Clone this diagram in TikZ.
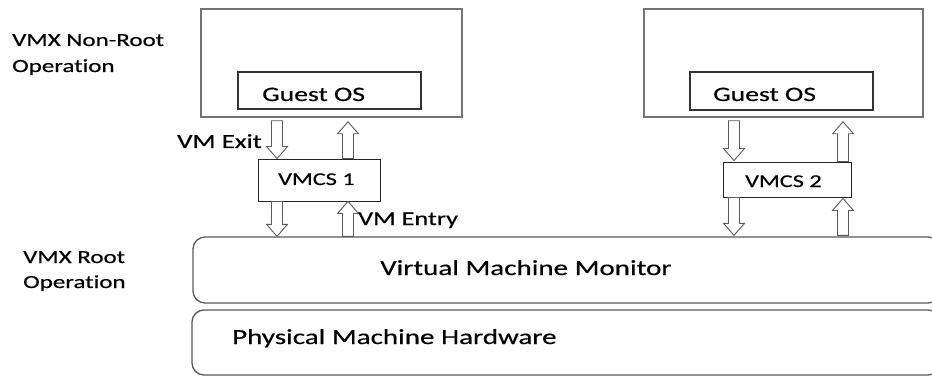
\documentclass[tikz,border=0pt]{standalone}
\usepackage{fontspec}
\usepackage{graphicx}
\setmainfont{Carlito}[Ligatures=NoCommon, BoldFont=Carlito, BoldFeatures={FakeBold=0.35}]
\usetikzlibrary{calc}
\newcommand{\tx}[2]{\scalebox{1.35}[1]{\fontsize{#1}{#1}\selectfont\bfseries #2}}
\newcommand{\blkdown}[2]{\draw[blk] ($(#1)+(-5.5,0)$) -- ($(#2)+(-5.5,-12)$) -- ($(#2)+(-10.5,-12)$) -- (#2) -- ($(#2)+(10.5,-12)$) -- ($(#2)+(5.5,-12)$) -- ($(#1)+(5.5,0)$) -- cycle;}
\newcommand{\blkup}[2]{\draw[blk] ($(#1)+(-5.5,0)$) -- ($(#2)+(-5.5,12)$) -- ($(#2)+(-10.5,12)$) -- (#2) -- ($(#2)+(10.5,12)$) -- ($(#2)+(5.5,12)$) -- ($(#1)+(5.5,0)$) -- cycle;}
\tikzset{
  outerbox/.style={draw=black!55, line width=1.6pt, rectangle, inner sep=0pt},
  guestbox/.style={draw=black!80, line width=1.1pt, rectangle, inner sep=0pt},
  vmcsbox/.style={draw=black!85, line width=0.9pt, rectangle, inner sep=0pt},
  layerbox/.style={draw=black!65, line width=1.3pt, rectangle, rounded corners=12pt, inner sep=0pt},
  blk/.style={draw=black!65, line width=0.9pt, fill=white},
  lbl/.style={inner sep=0pt, anchor=base west, text=black}
}
\begin{document}
\begin{tikzpicture}[x=1pt, y=-1pt]
\useasboundingbox (0,0) rectangle (932,377);
\clip (0,0) rectangle (932,377);
% outer VM boxes
\node[outerbox, minimum width=261pt, minimum height=108pt] (out1) at (331.5,63) {};
\node[outerbox, minimum width=279pt, minimum height=108pt] (out2) at (783.5,63) {};
% guest OS boxes
\node[guestbox, minimum width=183pt, minimum height=37pt] (g1) at (329.5,90.5) {};
\node[guestbox, minimum width=183pt, minimum height=38pt] (g2) at (781.5,91) {};
% VMCS boxes
\node[vmcsbox, minimum width=122pt, minimum height=42pt] (v1) at (319,180) {};
\node[vmcsbox, minimum width=128pt, minimum height=35pt] (v2) at (787,179.5) {};
% layer boxes
\node[layerbox, minimum width=747pt, minimum height=66pt] (vmm) at (566.5,270) {};
\node[layerbox, minimum width=748pt, minimum height=65pt] (hw) at (566,342.5) {};
% guide coordinates for arrow columns
\coordinate (c1) at (277,0);
\coordinate (c2) at (348,0);
\coordinate (c3) at (734,0);
\coordinate (c4) at (843,0);
% left VM arrows
\blkdown{$(out1.south -| c1)+(0,3)$}{$(v1.north -| c1)$}
\blkup{$(v1.north -| c2)$}{$(out1.south -| c2)+(0,4)$}
\blkdown{$(v1.south -| c1)$}{$(vmm.north -| c1)$}
\blkup{$(vmm.north -| c2)$}{$(v1.south -| c2)$}
% right VM arrows
\blkdown{$(out2.south -| c3)+(0,3)$}{$(v2.north -| c3)+(0,-1)$}
\blkup{$(v2.north -| c4)$}{$(out2.south -| c4)+(0,4)$}
\blkdown{$(v2.south -| c3)$}{$(vmm.north -| c3)+(0,-1)$}
\blkup{$(vmm.north -| c4)+(0,-1)$}{$(v2.south -| c4)+(0,1)$}
% texts
\node[lbl] (t1) at (262,101) {\tx{20.5}{Guest OS}};
\node[lbl] (t2) at (713,101) {\tx{20.5}{Guest OS}};
\node[lbl] (t3) at (278,185) {\tx{18}{VMCS 1}};
\node[lbl] (t4) at (745,187) {\tx{18}{VMCS 2}};
\node[lbl] (t5) at (177,148) {\tx{20}{VM Exit}};
\node[lbl] (t6) at (358,225) {\tx{19.5}{VM Entry}};
\node[lbl] (t7) at (380,275) {\tx{21.5}{Virtual Machine Monitor}};
\node[lbl] (t8) at (232,344) {\tx{21.5}{Physical Machine Hardware}};
\node[lbl] (t9) at (12,46) {\tx{18.5}{VMX Non-Root}};
\node[lbl] (t10) at (12,72) {\tx{18.5}{Operation}};
\node[lbl] (t11) at (23,263) {\tx{18.5}{VMX Root}};
\node[lbl] (t12) at (23,288) {\tx{18.5}{Operation}};
\end{tikzpicture}
\end{document}
